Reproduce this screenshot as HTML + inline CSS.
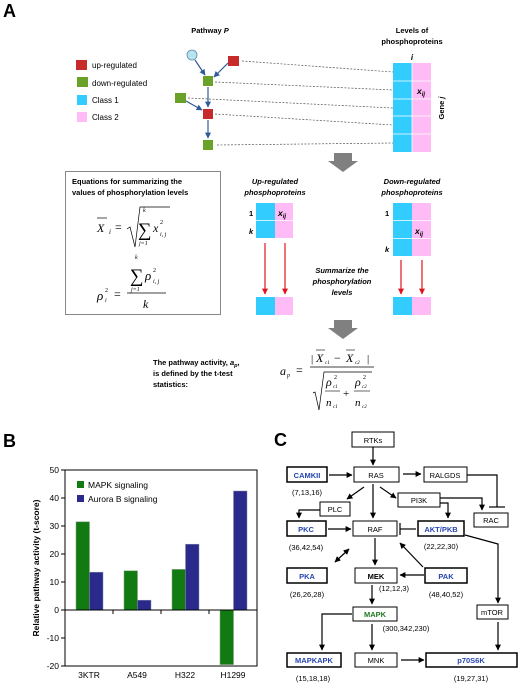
<!DOCTYPE html>
<html><head><meta charset="utf-8"><style>
html,body{margin:0;padding:0;background:#fff}
svg{display:block;font-family:"Liberation Sans",sans-serif}
</style></head><body>
<svg id="fig" width="521" height="685" viewBox="0 0 521 685" xmlns="http://www.w3.org/2000/svg">
<defs>
<marker id="mb" viewBox="0 0 10 10" refX="9" refY="5" markerWidth="5" markerHeight="5" orient="auto"><path d="M0,0L10,5L0,10z" fill="#2e5a9a"/></marker>
<marker id="mk" viewBox="0 0 10 10" refX="9" refY="5" markerWidth="5" markerHeight="5" orient="auto"><path d="M0,0L10,5L0,10z" fill="#000"/></marker>
<marker id="mks" viewBox="0 0 10 10" refX="1" refY="5" markerWidth="5" markerHeight="5" orient="auto"><path d="M10,0L0,5L10,10z" fill="#000"/></marker>
<marker id="mr" viewBox="0 0 10 10" refX="9" refY="5" markerWidth="5" markerHeight="5" orient="auto"><path d="M0,0L10,5L0,10z" fill="#e0141e"/></marker>
</defs>

<!-- PANEL A -->
<g>
<text x="3" y="17" font-size="18" font-weight="bold">A</text>
<text x="210" y="33" font-size="7.5" font-weight="bold" text-anchor="middle">Pathway <tspan font-style="italic">P</tspan></text>
<text x="412" y="33" font-size="7.5" font-weight="bold" text-anchor="middle">Levels of</text>
<text x="412" y="44" font-size="7.5" font-weight="bold" text-anchor="middle">phosphoproteins</text>
<text x="412" y="60" font-size="8" font-weight="bold" font-style="italic" text-anchor="middle">i</text>

<g>
<rect x="76" y="60" width="11" height="10" fill="#c62a2a"/><text x="92" y="68" font-size="8">up-regulated</text>
<rect x="77" y="77" width="11" height="10" fill="#6aa128"/><text x="92" y="86" font-size="8">down-regulated</text>
<rect x="77" y="95" width="10" height="10" fill="#33ccff"/><text x="92" y="103" font-size="8">Class 1</text>
<rect x="77" y="112" width="10" height="10" fill="#ffbbf5"/><text x="92" y="120" font-size="8">Class 2</text>
</g>

<g stroke="#555" stroke-dasharray="2,1.5" stroke-width="0.7">
<line x1="242" y1="61" x2="393" y2="72"/>
<line x1="215" y1="82" x2="393" y2="90"/>
<line x1="188" y1="98" x2="393" y2="108"/>
<line x1="215" y1="114" x2="393" y2="125"/>
<line x1="217" y1="145" x2="393" y2="143"/>
</g>
<g stroke="#2e5a9a" stroke-width="1.2" fill="none">
<line x1="195" y1="60" x2="205" y2="75" marker-end="url(#mb)"/>
<line x1="228" y1="63" x2="214" y2="77" marker-end="url(#mb)"/>
<line x1="208" y1="87" x2="208" y2="107" marker-end="url(#mb)"/>
<line x1="186" y1="101" x2="202" y2="110" marker-end="url(#mb)"/>
<line x1="208" y1="120" x2="208" y2="138" marker-end="url(#mb)"/>
</g>
<circle cx="192" cy="55" r="5" fill="#b6e3ee" stroke="#5b8fa8" stroke-width="0.8"/>
<rect x="228" y="56" width="11" height="10" fill="#c62a2a"/>
<rect x="203" y="76" width="10" height="10" fill="#6aa128"/>
<rect x="175" y="93" width="11" height="10" fill="#6aa128"/>
<rect x="203" y="109" width="10" height="10" fill="#c62a2a"/>
<rect x="203" y="140" width="10" height="10" fill="#6aa128"/>

<g>
<rect x="393" y="63" width="19" height="89" fill="#33ccff"/>
<rect x="412" y="63" width="19" height="89" fill="#ffbbf5"/>
<g stroke="#fff" stroke-width="0.8"><line x1="393" y1="81" x2="431" y2="81"/><line x1="393" y1="99" x2="431" y2="99"/><line x1="393" y1="116" x2="431" y2="116"/><line x1="393" y1="134" x2="431" y2="134"/><line x1="412" y1="63" x2="412" y2="152"/></g>
<text x="417" y="94" font-size="8.5" font-weight="bold" font-style="italic">x<tspan font-size="6" dy="2">ij</tspan></text>
<text transform="translate(444,108) rotate(-90)" font-size="7.5" font-weight="bold" text-anchor="middle">Gene <tspan font-style="italic">j</tspan></text>
</g>

<path d="M334,153h18v8h6l-15,11l-15,-11h6z" fill="#808080"/>

<g>
<rect x="65.5" y="171.5" width="155" height="143" fill="none" stroke="#888" stroke-width="1"/>
<text x="72" y="184" font-size="7.5" font-weight="bold">Equations for summarizing the</text>
<text x="72" y="195" font-size="7.5" font-weight="bold">values of phosphorylation levels</text>
<g font-family="Liberation Serif,serif" font-style="italic">
<text x="97" y="232" font-size="12">X</text><line x1="97" y1="218" x2="107" y2="218" stroke="#000" stroke-width="0.7"/>
<text x="109" y="234" font-size="7">i</text>
<text x="115" y="231" font-size="12" font-style="normal">=</text>
<path d="M127,229l3,-2l5,20l5,-40h30" fill="none" stroke="#000" stroke-width="0.7"/>
<text x="138" y="236" font-size="19" font-style="normal">∑</text>
<text x="143" y="212" font-size="6">k</text>
<text x="139" y="245" font-size="6">j=1</text>
<text x="153" y="232" font-size="12">x</text>
<text x="160" y="224" font-size="6" font-style="normal">2</text>
<text x="160" y="236" font-size="6">i, j</text>

<text x="97" y="300" font-size="13">ρ</text>
<text x="105" y="292" font-size="6" font-style="normal">2</text>
<text x="105" y="302" font-size="6">i</text>
<text x="114" y="298" font-size="12" font-style="normal">=</text>
<line x1="127" y1="293" x2="166" y2="293" stroke="#000" stroke-width="0.7"/>
<text x="130" y="282" font-size="19" font-style="normal">∑</text>
<text x="135" y="259" font-size="6">k</text>
<text x="131" y="291" font-size="6">j=1</text>
<text x="145" y="280" font-size="13">ρ</text>
<text x="153" y="272" font-size="6" font-style="normal">2</text>
<text x="153" y="283" font-size="6">i, j</text>
<text x="143" y="308" font-size="12">k</text>
</g>
</g>

<g>
<text x="275" y="184" font-size="7.5" font-weight="bold" font-style="italic" text-anchor="middle">Up-regulated</text>
<text x="275" y="195" font-size="7.5" font-weight="bold" font-style="italic" text-anchor="middle">phosphoproteins</text>
<rect x="256" y="203" width="19" height="35" fill="#33ccff"/><rect x="275" y="203" width="18" height="35" fill="#ffbbf5"/>
<line x1="256" y1="220.5" x2="293" y2="220.5" stroke="#fff" stroke-width="0.8"/>
<text x="249" y="216" font-size="7.5" font-weight="bold">1</text>
<text x="249" y="234" font-size="7.5" font-weight="bold" font-style="italic">k</text>
<text x="278" y="216" font-size="8.5" font-weight="bold" font-style="italic">x<tspan font-size="6" dy="2">ij</tspan></text>
<g stroke="#e0141e" stroke-width="1.2"><line x1="265" y1="243" x2="265" y2="294" marker-end="url(#mr)"/><line x1="285" y1="243" x2="285" y2="294" marker-end="url(#mr)"/></g>
<rect x="256" y="297" width="19" height="18" fill="#33ccff"/><rect x="275" y="297" width="18" height="18" fill="#ffbbf5"/>
</g>

<g>
<text x="412" y="184" font-size="7.5" font-weight="bold" font-style="italic" text-anchor="middle">Down-regulated</text>
<text x="412" y="195" font-size="7.5" font-weight="bold" font-style="italic" text-anchor="middle">phosphoproteins</text>
<rect x="393" y="203" width="19" height="53" fill="#33ccff"/><rect x="412" y="203" width="19" height="53" fill="#ffbbf5"/>
<g stroke="#fff" stroke-width="0.8"><line x1="393" y1="220.5" x2="431" y2="220.5"/><line x1="393" y1="238.5" x2="431" y2="238.5"/></g>
<text x="385" y="216" font-size="7.5" font-weight="bold">1</text>
<text x="385" y="252" font-size="7.5" font-weight="bold" font-style="italic">k</text>
<text x="415" y="234" font-size="8.5" font-weight="bold" font-style="italic">x<tspan font-size="6" dy="2">ij</tspan></text>
<g stroke="#e0141e" stroke-width="1.2"><line x1="401" y1="260" x2="401" y2="294" marker-end="url(#mr)"/><line x1="422" y1="260" x2="422" y2="294" marker-end="url(#mr)"/></g>
<rect x="393" y="297" width="19" height="18" fill="#33ccff"/><rect x="412" y="297" width="19" height="18" fill="#ffbbf5"/>
</g>

<g font-size="7.5" font-weight="bold" font-style="italic" text-anchor="middle">
<text x="342" y="273">Summarize the</text><text x="342" y="284">phosphorylation</text><text x="342" y="295">levels</text>
</g>

<path d="M334,320h18v8h6l-15,11l-15,-11h6z" fill="#808080"/>

<g font-size="7.5" font-weight="bold">
<text x="153" y="365">The pathway activity, <tspan font-style="italic">a</tspan><tspan font-style="italic" font-size="5.5" dy="2">p</tspan><tspan dy="-2">,</tspan></text>
<text x="153" y="376">is defined by the t-test</text>
<text x="153" y="387">statistics:</text>
</g>
<g font-family="Liberation Serif,serif" font-style="italic">
<text x="280" y="375" font-size="12">a</text><text x="287" y="377" font-size="6">p</text>
<text x="296" y="374" font-size="12" font-style="normal">=</text>
<line x1="310" y1="367" x2="374" y2="367" stroke="#000" stroke-width="0.7"/>
<text x="311" y="362" font-size="11" font-style="normal">|</text>
<text x="316" y="362" font-size="12">X</text><line x1="316" y1="350" x2="325" y2="350" stroke="#000" stroke-width="0.6"/><text x="325" y="364" font-size="5">c1</text>
<text x="334" y="362" font-size="12" font-style="normal">−</text>
<text x="346" y="362" font-size="12">X</text><line x1="346" y1="350" x2="355" y2="350" stroke="#000" stroke-width="0.6"/><text x="355" y="364" font-size="5">c2</text>
<text x="367" y="362" font-size="11" font-style="normal">|</text>
<path d="M313,393l2,-1l4,18l5,-38h48" fill="none" stroke="#000" stroke-width="0.7"/>
<text x="326" y="386" font-size="12">ρ</text><text x="334" y="379" font-size="6" font-style="normal">2</text><text x="333" y="388" font-size="5">c1</text>
<line x1="325" y1="391" x2="340" y2="391" stroke="#000" stroke-width="0.6"/>
<text x="326" y="406" font-size="11">n</text><text x="333" y="408" font-size="5">c1</text>
<text x="343" y="397" font-size="11" font-style="normal">+</text>
<text x="355" y="386" font-size="12">ρ</text><text x="363" y="379" font-size="6" font-style="normal">2</text><text x="362" y="388" font-size="5">c2</text>
<line x1="354" y1="391" x2="370" y2="391" stroke="#000" stroke-width="0.6"/>
<text x="355" y="406" font-size="11">n</text><text x="362" y="408" font-size="5">c2</text>
</g>
</g>

<!-- PANEL B -->
<g id="panelB">
<text x="3" y="447" font-size="18" font-weight="bold">B</text>
</g>

<!-- PANEL C -->
<g font-size="7.5">
<text x="274" y="446" font-size="18" font-weight="bold">C</text>
<g stroke="#000" stroke-width="1.2" fill="none">
<line x1="373" y1="447" x2="373" y2="465" marker-end="url(#mk)"/>
<line x1="329" y1="475" x2="352" y2="475" marker-end="url(#mk)"/>
<line x1="403" y1="474" x2="421" y2="474" marker-end="url(#mk)"/>
<polyline points="467,475 497,475 497,507"/><line x1="489" y1="507" x2="505" y2="507"/>
<line x1="364" y1="487" x2="347" y2="499" marker-end="url(#mk)"/>
<line x1="373" y1="484" x2="373" y2="518" marker-end="url(#mk)"/>
<line x1="380" y1="487" x2="396" y2="498" marker-end="url(#mk)"/>
<polyline points="440,498 482,498 482,510" marker-end="url(#mk)"/>
<polyline points="440,503 448,503 448,518" marker-end="url(#mk)"/>
<polyline points="320,510 299,510 299,518" marker-end="url(#mk)"/>
<line x1="328" y1="529" x2="351" y2="529" marker-end="url(#mk)"/>
<line x1="416" y1="529" x2="400" y2="529"/><line x1="400" y1="523" x2="400" y2="535"/>
<polyline points="465,535 498,544 498,603" marker-end="url(#mk)"/>
<line x1="335" y1="562" x2="349" y2="549" marker-start="url(#mks)" marker-end="url(#mk)"/>
<line x1="375" y1="538" x2="375" y2="565" marker-end="url(#mk)"/>
<line x1="423" y1="567" x2="400" y2="543" marker-end="url(#mk)"/>
<line x1="424" y1="575" x2="400" y2="575" marker-end="url(#mk)"/>
<line x1="372" y1="585" x2="372" y2="604" marker-end="url(#mk)"/>
<polyline points="352,614 322,614 322,650" marker-end="url(#mk)"/>
<line x1="372" y1="624" x2="372" y2="650" marker-end="url(#mk)"/>
<line x1="401" y1="660" x2="424" y2="660" marker-end="url(#mk)"/>
<line x1="498" y1="622" x2="498" y2="650" marker-end="url(#mk)"/>
</g>
<g stroke="#000" stroke-width="1" fill="#fff">
<rect x="352" y="432" width="42" height="15"/>
<rect x="354" y="467" width="45" height="15"/>
<rect x="287" y="467" width="40" height="15" stroke-width="1.5"/>
<rect x="424" y="467" width="43" height="15"/>
<rect x="398" y="493" width="42" height="14"/>
<rect x="320" y="502" width="30" height="14"/>
<rect x="474" y="513" width="34" height="14"/>
<rect x="287" y="521" width="39" height="15" stroke-width="1.5"/>
<rect x="353" y="521" width="44" height="15"/>
<rect x="418" y="521" width="46" height="15" stroke-width="1.5"/>
<rect x="287" y="568" width="40" height="15" stroke-width="1.5"/>
<rect x="355" y="568" width="42" height="15"/>
<rect x="425" y="568" width="42" height="15" stroke-width="1.5"/>
<rect x="353" y="607" width="44" height="14"/>
<rect x="477" y="605" width="31" height="14"/>
<rect x="287" y="653" width="54" height="14" stroke-width="1.5"/>
<rect x="355" y="653" width="42" height="14"/>
<rect x="426" y="653" width="91" height="14" stroke-width="1.5"/>
</g>
<g text-anchor="middle">
<text x="373" y="443">RTKs</text><text x="376" y="478">RAS</text>
<text x="307" y="478" fill="#2645b0" font-weight="bold">CAMKII</text>
<text x="445" y="478">RALGDS</text><text x="419" y="503">PI3K</text><text x="335" y="512">PLC</text>
<text x="491" y="523">RAC</text>
<text x="306" y="532" fill="#2645b0" font-weight="bold">PKC</text>
<text x="375" y="532">RAF</text>
<text x="441" y="532" fill="#2645b0" font-weight="bold">AKT/PKB</text>
<text x="307" y="579" fill="#2645b0" font-weight="bold">PKA</text>
<text x="376" y="579" font-weight="bold">MEK</text>
<text x="446" y="579" fill="#2645b0" font-weight="bold">PAK</text>
<text x="375" y="617" fill="#1f7a1f" font-weight="bold">MAPK</text>
<text x="492" y="615">mTOR</text>
<text x="314" y="663" fill="#2645b0" font-weight="bold">MAPKAPK</text>
<text x="376" y="663">MNK</text>
<text x="471" y="663" fill="#2645b0" font-weight="bold">p70S6K</text>
<text x="307" y="495">(7,13,16)</text>
<text x="306" y="550">(36,42,54)</text>
<text x="441" y="549">(22,22,30)</text>
<text x="307" y="597">(26,26,28)</text>
<text x="394" y="591">(12,12,3)</text>
<text x="446" y="597">(48,40,52)</text>
<text x="406" y="631">(300,342,230)</text>
<text x="313" y="681">(15,18,18)</text>
<text x="471" y="681">(19,27,31)</text>
</g>
</g>
</svg>
<script>
const categories = ["3KTR", "A549", "H322", "H1299"];
const mapkValues = [31.5, 14, 14.5, -19.5];
const auroraValues = [13.5, 3.5, 23.5, 42.5];
const yTicks = [-20, -10, 0, 10, 20, 30, 40, 50];
const seriesNames = ["MAPK signaling", "Aurora B signaling"];

(function(){
  const NS = "http://www.w3.org/2000/svg";
  const g = document.getElementById("panelB");
  const L = 65, R = 257, T = 470, B = 666, ymin = -20, ymax = 50;
  const y = v => B - (v - ymin) / (ymax - ymin) * (B - T);
  const gw = (R - L) / categories.length;
  const x = i => L + i * gw;
  function mk(tag, attrs, name) {
    const e = document.createElementNS(NS, tag);
    for (const k in attrs) e.setAttribute(k, attrs[k]);
    g.appendChild(e);
    return e;
  }
  let e = mk("rect", {x: L, y: T, width: R - L, height: B - T, fill: "none", stroke: "#000", "stroke-width": 1});
  
  
  yTicks.forEach(t => {
    const tk = mk("line", {x1: L - 4, x2: L, y1: y(t), y2: y(t), stroke: "#000"});
    
    
    const tl = mk("text", {x: L - 6, y: y(t) + 3, "font-size": 8.5, "text-anchor": "end"});
    tl.textContent = t;
    
    
  });
  categories.forEach((c, i) => {
    const x0 = x(i) + 11, bw = 13.5;
    const v1 = mapkValues[i], v2 = auroraValues[i];
    const b1 = mk("rect", {x: x0, y: Math.min(y(v1), y(0)), width: bw, height: Math.abs(y(v1) - y(0)), fill: "#117a11", stroke: "#8aa08a", "stroke-width": 0.5});
    
    
    const b2 = mk("rect", {x: x0 + bw, y: Math.min(y(v2), y(0)), width: bw, height: Math.abs(y(v2) - y(0)), fill: "#2a2a8c", stroke: "#8a8aa8", "stroke-width": 0.5});
    
    
    const xl = mk("text", {x: x(i) + gw / 2, y: 678, "font-size": 8.5, "text-anchor": "middle"});
    xl.textContent = c;
    
    
    if (i > 0) {
      const xt = mk("line", {x1: x(i), x2: x(i), y1: y(0), y2: y(0) + 4, stroke: "#000"});
      
      
    }
  });
  const zl = mk("line", {x1: L, x2: R, y1: y(0), y2: y(0), stroke: "#000"});
  
  
  const cols = ["#117a11", "#2a2a8c"];
  seriesNames.forEach((s, k) => {
    const r = mk("rect", {x: 77, y: 481 + k * 14, width: 7, height: 7, fill: cols[k]});
    
    
    const t = mk("text", {x: 88, y: 488 + k * 14, "font-size": 8.5});
    t.textContent = s;
    
    
  });
  const yt = mk("text", {transform: "translate(39,568) rotate(-90)", "font-size": 8.5, "font-weight": "bold", "text-anchor": "middle"});
  yt.textContent = "Relative pathway activity (t-score)";
  
  
})();
</script>
</body></html>
